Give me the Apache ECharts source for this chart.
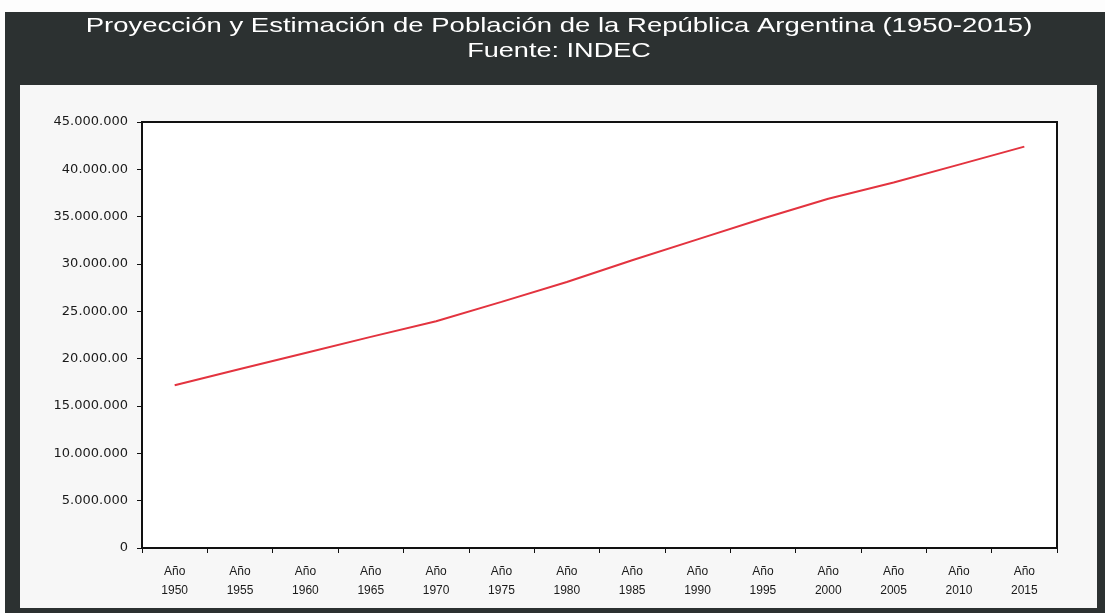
<!DOCTYPE html>
<html>
<head>
<meta charset="utf-8">
<script src="https://cdn.jsdelivr.net/npm/echarts@6/dist/echarts.min.js"></script>
<style>
html,body{margin:0;padding:0;background:#fdfdfd;}
#chart{width:1105px;height:613px;}
</style>
</head>
<body>
<div id="chart"></div>
<script>
const categories = ["1950","1955","1960","1965","1970","1975","1980","1985","1990","1995","2000","2005","2010","2015"];
const population = [17200000,18900000,20600000,22300000,23960000,26000000,28100000,30400000,32600000,34800000,36900000,38600000,40500000,42400000];
const yTickLabels = ["0","5.000.000","10.000.000","15.000.000","20.000.00","25.000.00","30.000.00","35.000.000","40.000.00","45.000.000"];
const titleText = "Proyección y Estimación de Población de la República Argentina (1950-2015)";
const subtitleText = "Fuente: INDEC";

const chart = echarts.init(document.getElementById('chart'), null, {renderer:'canvas'});
chart.setOption({
  animation:false,
  backgroundColor:'#fdfdfd',
  graphic:[
    {type:'rect', z:-10, shape:{x:5,y:12,width:1100,height:601}, style:{fill:'#2c3131'}},
    {type:'rect', z:-9, shape:{x:20,y:85,width:1077,height:523}, style:{fill:'#f7f7f7'}},
    {type:'text', z:10, x:559, y:26, scaleX:1.31, scaleY:1,
      style:{text:titleText, fill:'#ffffff', font:'normal 21px "Liberation Sans"', textAlign:'center', textVerticalAlign:'middle'}},
    {type:'text', z:10, x:559, y:51, scaleX:1.29, scaleY:1,
      style:{text:subtitleText, fill:'#ffffff', font:'normal 21px "Liberation Sans"', textAlign:'center', textVerticalAlign:'middle'}}
  ],
  grid:{left:142,right:48,top:122,bottom:65,show:true,backgroundColor:'#ffffff',borderColor:'#111',borderWidth:2},
  xAxis:{
    type:'category',
    data:categories,
    boundaryGap:true,
    axisLine:{lineStyle:{color:'#111',width:2}},
    axisTick:{show:true,inside:false,length:5,lineStyle:{color:'#111'}},
    axisLabel:{interval:0,margin:14,color:'#1a1a1a',fontFamily:'Liberation Sans',fontSize:12,lineHeight:19,
      formatter:function(v){return 'Año\n'+v;}}
  },
  yAxis:{
    type:'value',
    min:0,max:45000000,interval:5000000,
    axisLine:{show:true,lineStyle:{color:'#111',width:2}},
    axisTick:{show:true,length:5,lineStyle:{color:'#111'}},
    splitLine:{show:false},
    axisLabel:{color:'#1a1a1a',fontFamily:'DejaVu Sans',fontSize:13,margin:14,
      formatter:function(v){return yTickLabels[Math.round(v/5000000)];}}
  },
  series:[{
    type:'line',
    data:population,
    showSymbol:false,
    symbol:'none',
    lineStyle:{color:'#e3333f',width:2}
  }]
});
</script>
</body>
</html>
